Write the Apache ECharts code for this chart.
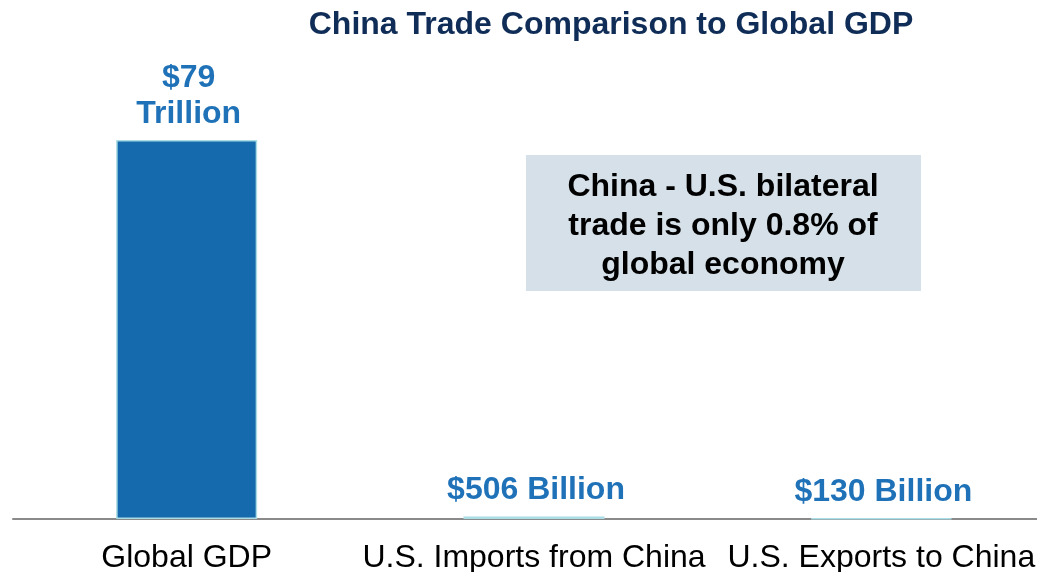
<!DOCTYPE html>
<html>
<head>
<meta charset="utf-8">
<script src="https://cdn.jsdelivr.net/npm/echarts@6/dist/echarts.min.js"></script>
<style>
  html, body { margin: 0; padding: 0; background: #ffffff; }
  #chart { width: 1037px; height: 572px; }
</style>
</head>
<body>
<div id="chart"></div>
<script>
// Trade flows vs world output, in billions of US dollars
const categories = ['Global GDP', 'U.S. Imports from China', 'U.S. Exports to China'];
const valuesBillion = [79000, 506, 130];
const titleText = 'China Trade Comparison to Global GDP';
const noteLines = ['China - U.S. bilateral', 'trade is only 0.8% of', 'global economy'];

const FONT = 'Liberation Sans';

function formatValue(v) {
  if (v >= 1000) return '$' + Math.round(v / 1000) + '\nTrillion';
  return '$' + v + ' Billion';
}

const chart = echarts.init(document.getElementById('chart'), null, { renderer: 'canvas' });

chart.setOption({
  animation: false,
  backgroundColor: '#ffffff',
  title: {
    text: titleText,
    left: 606,
    textAlign: 'center',
    top: 4,
    textStyle: { fontFamily: FONT, fontSize: 32, fontWeight: 'bold', color: '#0f2d57' }
  },
  grid: { left: 13, width: 1042, top: 140, bottom: 53, containLabel: false, outerBoundsMode: 'none' },
  xAxis: {
    type: 'category',
    data: categories,
    axisLine: { show: true, lineStyle: { color: '#8a8a8a', width: 2 } },
    axisTick: { show: false },
    axisLabel: {
      interval: 0,
      margin: 23,
      fontFamily: FONT,
      fontSize: 32,
      color: '#000000'
    }
  },
  yAxis: {
    type: 'value',
    min: 0,
    max: 79000,
    show: false,
    splitLine: { show: false }
  },
  series: [{
    type: 'bar',
    data: valuesBillion,
    barWidth: 141,
    itemStyle: { color: '#1569ad', borderColor: '#a9dce4', borderWidth: 1.5 },
    label: {
      show: true,
      position: 'top',
      distance: 8,
      offset: [2, 0],
      formatter: p => formatValue(p.value),
      fontFamily: FONT,
      fontSize: 32,
      fontWeight: 'bold',
      lineHeight: 36,
      color: '#1f72b8'
    }
  }],
  graphic: [{
    type: 'group',
    left: 526,
    top: 155,
    children: [
      {
        type: 'rect',
        shape: { x: 0, y: 0, width: 395, height: 136 },
        style: { fill: '#d5e0e8' }
      },
      {
        type: 'text',
        x: 197,
        y: 71,
        style: {
          text: noteLines.join('\n'),
          fontFamily: FONT,
          fontSize: 32,
          fontWeight: 'bold',
          lineHeight: 39,
          fill: '#000000',
          align: 'center',
          verticalAlign: 'middle'
        }
      }
    ]
  }]
});
</script>
</body>
</html>
